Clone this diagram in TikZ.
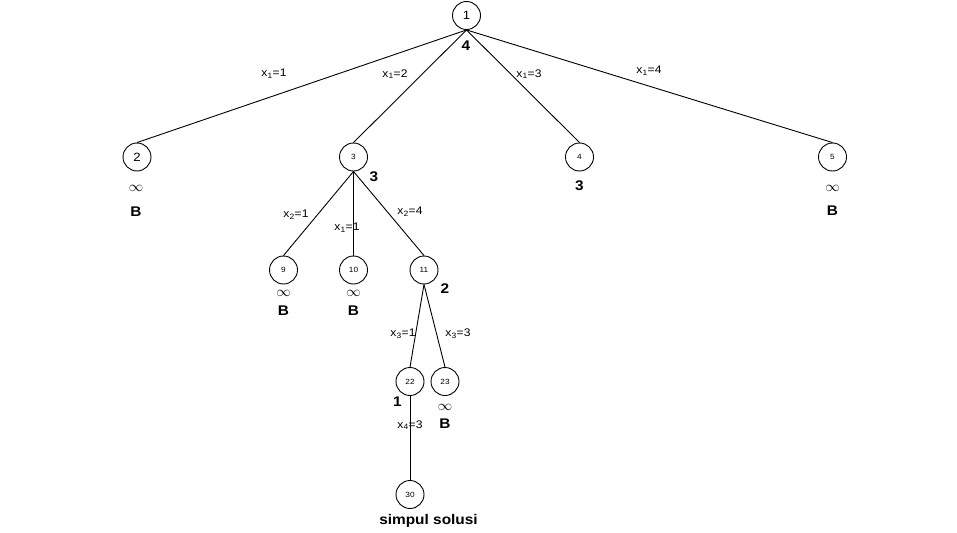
\documentclass[tikz,border=0pt]{standalone}
\usepackage{fontspec}
\setmainfont[FakeStretch=1.1]{Liberation Sans}
\newcommand\xs[1]{x\textsubscript{#1}}
\tikzset{
  tn/.style={circle,draw,line width=0.9pt,minimum size=28pt,inner sep=0pt,font=\fontsize{12}{13}\selectfont},
  tns/.style={tn,font=\fontsize{7.5}{9}\selectfont},
  edge/.style={line width=0.9pt},
  elab/.style={font=\fontsize{11}{12}\selectfont,inner sep=0pt},
  bl/.style={font=\fontsize{14}{15}\selectfont\bfseries,inner sep=0pt},
  inf/.style={font=\fontsize{15}{15}\selectfont,inner sep=0pt}
}
\begin{document}
\begin{tikzpicture}[x=1pt,y=-1pt]
\useasboundingbox (0,0) rectangle (957,532);
\node[tn] (n1) at (466.5,15.5) {1};
\node[tn] (n2) at (137,157) {2};
\node[tns] (n3) at (353.5,157) {3};
\node[tns] (n4) at (579.5,157) {4};
\node[tns] (n5) at (832.5,157) {5};
\node[tns] (n9) at (283.5,270) {9};
\node[tns] (n10) at (353.5,270) {10};
\node[tns] (n11) at (424,270) {11};
\node[tns] (n22) at (410,381.5) {22};
\node[tns] (n23) at (445,381.5) {23};
\node[tns] (n30) at (410,494.5) {30};
\draw[edge] (n1.south) -- (n2.north);
\draw[edge] (n1.south) -- (n3.north);
\draw[edge] (n1.south) -- (n4.north);
\draw[edge] (n1.south) -- (n5.north);
\draw[edge] (n3.south) -- (n9.north);
\draw[edge] (n3.south) -- (n10.north);
\draw[edge] (n3.south) -- (n11.north);
\draw[edge] (n11.south) -- (n22.north);
\draw[edge] (n11.south) -- (n23.north);
\draw[edge] (n22.south) -- (n30.north);
\node[elab] (l12) at (274,74) {\xs{1}=1};
\node[elab] (l13) at (395,74) {\xs{1}=2};
\node[elab] (l14) at (529,74) {\xs{1}=3};
\node[elab] (l15) at (649,71) {\xs{1}=4};
\node[elab] (l39) at (296,215) {\xs{2}=1};
\node[elab] (l310) at (347,228) {\xs{1}=1};
\node[elab] (l311) at (410,212) {\xs{2}=4};
\node[elab] (l1122) at (403,334) {\xs{3}=1};
\node[elab] (l1123) at (458,334) {\xs{3}=3};
\node[elab] (l2230) at (410,425) {\xs{4}=3};
\node[bl] (c1) at (466,46) {4};
\node[bl] (c3) at (374,177) {3};
\node[bl] (c4) at (579.5,186) {3};
\node[bl] (c11) at (445,289) {2};
\node[bl] (c22) at (397.5,402) {1};
\node[inf] (i2) at (136,188) {$\infty$};
\node[bl] (b2) at (136,212) {B};
\node[inf] (i5) at (832.5,188) {$\infty$};
\node[bl] (b5) at (832.5,211) {B};
\node[inf] (i9) at (283.5,293.5) {$\infty$};
\node[bl] (b9) at (283.5,311) {B};
\node[inf] (i10) at (353.5,293.5) {$\infty$};
\node[bl] (b10) at (353.5,311) {B};
\node[inf] (i23) at (445,407) {$\infty$};
\node[bl] (b23) at (445,424) {B};
\node[bl] (sol) at (428.5,520.5) {simpul solusi};
\end{tikzpicture}
\end{document}
